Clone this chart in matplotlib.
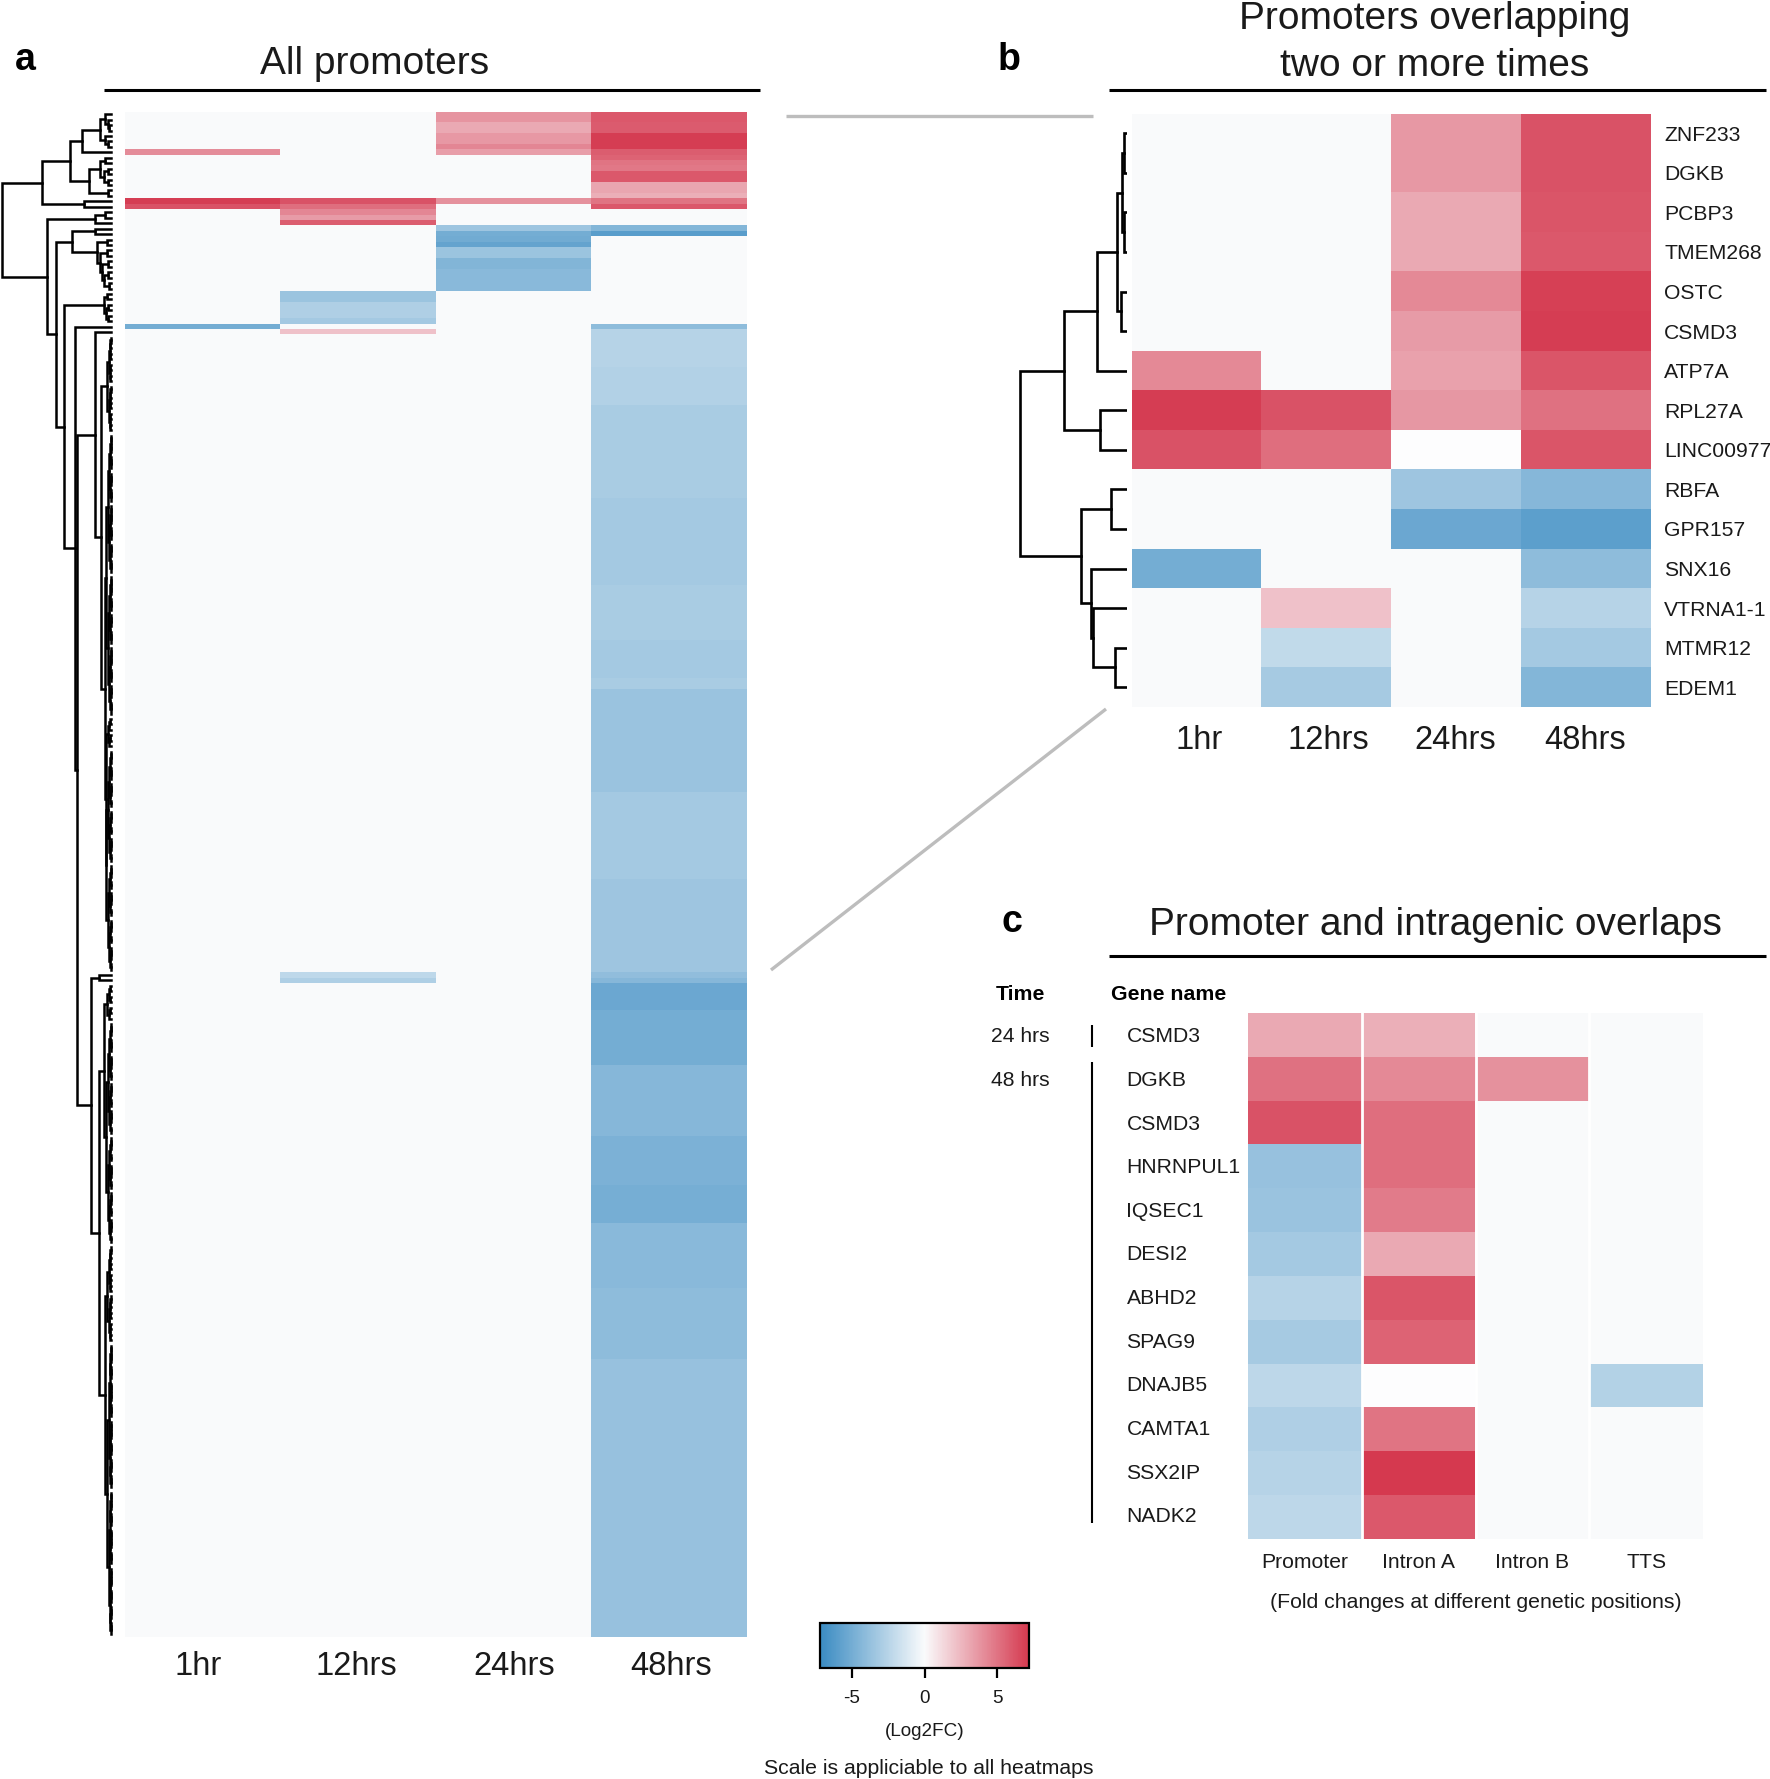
import numpy as np
from matplotlib import pyplot as plt
from matplotlib.cm import ScalarMappable
from matplotlib.colors import LinearSegmentedColormap, Normalize
from matplotlib.lines import Line2D

plt.rcParams['font.family'] = ['Liberation Sans', 'DejaVu Sans']
plt.rcParams['axes.unicode_minus'] = False

W, H = 1770, 1779
VMAX = 7.2
TXT = '#1a1a1a'

time_labels = ['1hr', '12hrs', '24hrs', '48hrs']

# panel a, rows that are not blank, read top to bottom
a_rows = 280
a_1hr_rows = [7, 16, 17, 39]
a_1hr_vals = [4.1, 7.0, 6.2, -5.0]
a_12_rows = [16, 17, 18, 19, 20, 33, 34, 35, 36, 37, 38, 40, 158, 159]
a_12_vals = [6.2, 5.2, 4.3, 3.5, 5.8, -3.5, -3.5, -2.8, -2.8, -2.8, -3.2, 2.1, -2.2, -2.8]
a_24_rows = [0, 1, 2, 3, 4, 5, 6, 7, 16, 21, 22, 23, 24, 25, 26, 27, 28, 29, 30, 31, 32]
a_24_vals = [3.8, 3.8, 3.0, 3.0, 3.6, 3.6, 4.3, 3.4, 3.9,
             -3.4, -5.0, -5.1, -5.6, -3.5, -3.5, -4.5, -4.5, -4.2, -4.2, -4.2, -4.2]
a_48_top_rows = [0, 1, 2, 3, 4, 5, 6, 7, 8, 9, 10, 11, 12, 13, 14, 15, 16, 17, 21, 22]
a_48_top_vals = [6.0, 6.0, 5.9, 5.9, 7.0, 7.0, 7.0, 5.8, 5.6, 5.0, 4.8, 6.0, 6.0,
                 3.1, 3.1, 2.8, 5.0, 6.0, -4.4, -6.0]
# long block of the 48hrs column, as (first row, last row) runs
a_48_first = [39, 40, 47, 54, 71, 87, 97, 104, 106, 125, 141, 158, 159, 160, 165, 175, 188, 197, 204, 216, 229]
a_48_last = [39, 46, 53, 70, 86, 96, 103, 105, 124, 140, 157, 158, 159, 164, 174, 187, 196, 203, 215, 228, 279]
a_48_vals = [-4.0, -2.5, -2.7, -3.0, -3.2, -3.0, -3.2, -3.0, -3.6, -3.2, -3.4,
             -3.9, -4.3, -5.3, -5.0, -4.3, -4.7, -4.9, -4.2, -4.0, -3.7]

# panel b
b_genes = ['ZNF233', 'DGKB', 'PCBP3', 'TMEM268', 'OSTC', 'CSMD3', 'ATP7A', 'RPL27A',
           'LINC00977', 'RBFA', 'GPR157', 'SNX16', 'VTRNA1-1', 'MTMR12', 'EDEM1']
b_1hr = [0, 0, 0, 0, 0, 0, 4.2, 7.0, 6.2, 0, 0, -5.0, 0, 0, 0]
b_12 = [0, 0, 0, 0, 0, 0, 0, 6.2, 5.2, 0, 0, 0, 2.1, -2.1, -3.1]
b_24 = [3.6, 3.6, 3.0, 3.0, 4.2, 3.5, 3.3, 3.7, np.nan, -3.4, -5.3, 0, 0, 0, 0]
b_48 = [6.2, 6.2, 6.1, 6.0, 6.9, 7.0, 6.1, 5.1, 6.1, -4.3, -5.9, -4.0, -2.5, -3.2, -4.4]

# panel c
c_genes = ['CSMD3', 'DGKB', 'CSMD3', 'HNRNPUL1', 'IQSEC1', 'DESI2', 'ABHD2', 'SPAG9',
           'DNAJB5', 'CAMTA1', 'SSX2IP', 'NADK2']
c_positions = ['Promoter', 'Intron A', 'Intron B', 'TTS']
c_promoter = [3.0, 5.1, 6.2, -3.7, -3.6, -3.2, -2.5, -3.1, -2.3, -2.8, -2.5, -2.3]
c_intron_a = [2.8, 4.2, 5.2, 5.2, 4.7, 3.0, 6.1, 5.6, np.nan, 5.0, 7.2, 6.0]
c_intron_b = [0, 3.9, 0, 0, 0, 0, 0, 0, 0, 0, 0, 0]
c_tts = [0, 0, 0, 0, 0, 0, 0, 0, -2.6, 0, 0, 0]

cmap = LinearSegmentedColormap.from_list('bwr2', ['#3a8bc2', '#fafbfc', '#d5394f'])
norm = Normalize(-VMAX, VMAX)


def comb(first, last, h):
    # tight leaf clusters, too fine to read branch by branch
    if first == last:
        return first
    mid = (first + last) // 2
    return (h, comb(first, mid, h * 0.62), comb(mid + 1, last, h * 0.62))


# dendrograms: (height, child, child), a plain int is a leaf row
b_tree = (105,
          (62, (29, (10, (5.4, (2.5, 0, 1), (2.5, 2, 3)), (5.9, 4, 5)), 6), (26.5, 7, 8)),
          (45, (16, 9, 10), (35, 11, (33, 12, (12, 13, 14)))))

a_upper = (70,
           (42,
            (30, (11, (6, 0, (3, 1, (2, 2, 3))), (6, 4, (3, 5, 6))), 7),
            (23, (11, (6, 8, 9), (7, (3, 10, 11), (3, 12, 13))), (3.5, 14, 15))),
           (28, 16, 17))
a_12only = (17, (6.5, 18, 19), 20)
a_24only = (40,
            (17, 21, 22),
            (14, (4, 23, 24),
             (11, (4, 25, 26), (9, (3, 27, 28), (7, (3, 29, 30), (2, 31, 32))))))
a_upper_long = (16.7, 40,
                (10, comb(41, 58, 4.5),
                 (6, comb(59, 110, 5),
                  (5, comb(111, 116, 3), comb(117, 157, 5)))))
a_lower_long = (21,
                (12, 158, 159),
                (12,
                 (7.7, comb(160, 166, 4), comb(167, 207, 5)),
                 (6, comb(208, 225, 4), comb(226, 279, 4))))
a_long = (48,
          (7, (4, 33, 34), (5, (3, 35, 36), (3, 37, 38))),
          (37, 39, (35, a_upper_long, a_lower_long)))
a_tree = (111, a_upper, (65, a_12only, (56, a_24only, a_long)))


def fig_x(x):
    return x / W


def fig_y(y):
    return 1 - y / H


def add_ax(fig, x0, y0, x1, y1):
    return fig.add_axes([fig_x(x0), fig_y(y1), (x1 - x0) / W, (y1 - y0) / H])


def draw_tree(ax, node, lw):
    if isinstance(node, (int, np.integer)):
        return node, 0
    h, left, right = node
    y0, h0 = draw_tree(ax, left, lw)
    y1, h1 = draw_tree(ax, right, lw)
    ax.plot([h0, h, h, h1], [y0, y0, y1, y1], color='black', lw=lw, solid_joinstyle='miter')
    return (y0 + y1) / 2, h


def put_text(fig, x, y, s, size, ha='center', weight='normal', color=TXT):
    fig.text(fig_x(x), fig_y(y), s, fontsize=size, ha=ha, va='center', fontweight=weight, color=color)


def put_line(fig, xs, ys, color, lw):
    fig.add_artist(Line2D([fig_x(x) for x in xs], [fig_y(y) for y in ys], color=color, lw=lw,
                          solid_capstyle='butt'))


fig = plt.figure(figsize=(W / 100, H / 100), dpi=100)

# panel a heatmap
mat_a = np.zeros((a_rows, 4))
mat_a[a_1hr_rows, 0] = a_1hr_vals
mat_a[a_12_rows, 1] = a_12_vals
mat_a[a_24_rows, 2] = a_24_vals
mat_a[a_48_top_rows, 3] = a_48_top_vals
for first, last, val in zip(a_48_first, a_48_last, a_48_vals):
    mat_a[first:last + 1, 3] = val

ax_a = add_ax(fig, 125, 111.5, 746, 1637)
ax_a.imshow(mat_a, aspect='auto', cmap=cmap, norm=norm, interpolation='nearest')
ax_a.set_xticks([-0.03, 0.99, 2.01, 3.02], time_labels, fontsize=23.5, color=TXT)
ax_a.set_yticks([])
ax_a.tick_params(length=0, pad=10)
for sp in ax_a.spines.values():
    sp.set_visible(False)

ax_da = add_ax(fig, 0, 111.5, 113, 1637)
draw_tree(ax_da, a_tree, 1.8)
ax_da.set_xlim(112.7, -1.7)
ax_da.set_ylim(a_rows - 0.5, -0.5)
ax_da.axis('off')

# panel b heatmap
mat_b = np.array([b_1hr, b_12, b_24, b_48]).T
ax_b = add_ax(fig, 1132, 113.5, 1651, 707)
ax_b.set_facecolor('#fdfdfe')
ax_b.imshow(mat_b, aspect='auto', cmap=cmap, norm=norm, interpolation='nearest')
ax_b.set_xticks([0.02, 1.01, 1.99, 2.99], time_labels, fontsize=23.5, color=TXT)
ax_b.yaxis.tick_right()
ax_b.set_yticks(range(len(b_genes)), b_genes, fontsize=15.2, color=TXT)
ax_b.tick_params(length=0)
ax_b.tick_params(axis='x', pad=13)
ax_b.tick_params(axis='y', pad=9.4)
for sp in ax_b.spines.values():
    sp.set_visible(False)

ax_db = add_ax(fig, 1017, 113.5, 1127, 707)
draw_tree(ax_db, b_tree, 1.9)
ax_db.set_xlim(0, 108)
ax_db.invert_xaxis()
ax_db.set_ylim(len(b_genes) - 0.5, -0.5)
ax_db.axis('off')

# panel c heatmap
mat_c = np.array([c_promoter, c_intron_a, c_intron_b, c_tts]).T
ax_c = add_ax(fig, 1248, 1013, 1703, 1539)
ax_c.set_facecolor('#fdfdfe')
ax_c.imshow(mat_c, aspect='auto', cmap=cmap, norm=norm, interpolation='nearest')
for x in [0.5, 1.5, 2.5]:
    ax_c.axvline(x, color='white', lw=2)
ax_c.set_xticks(range(4), c_positions, fontsize=15.2, color=TXT)
ax_c.set_yticks(np.arange(len(c_genes)) * 0.995, c_genes, fontsize=15.2, color=TXT)
for lab in ax_c.get_yticklabels():
    lab.set_ha('left')
ax_c.tick_params(length=0)
ax_c.tick_params(axis='x', pad=10)
ax_c.tick_params(axis='y', pad=87.5)
for sp in ax_c.spines.values():
    sp.set_visible(False)

# colour key
ax_key = add_ax(fig, 820, 1623, 1029, 1668)
cb = fig.colorbar(ScalarMappable(norm=norm, cmap=cmap), cax=ax_key, orientation='horizontal')
cb.set_ticks([-5, 0, 5])
cb.ax.tick_params(length=7.5, width=1.6, labelsize=13.6, pad=8.5, labelcolor=TXT)
cb.outline.set_linewidth(1.6)

# titles, rules and panel letters
put_text(fig, 375, 64, 'All promoters', 28)
put_text(fig, 1435, 19, 'Promoters overlapping', 28)
put_text(fig, 1435, 66, 'two or more times', 28)
put_text(fig, 1435, 925, 'Promoter and intragenic overlaps', 28)
put_line(fig, [104, 760], [89.6, 89.6], 'black', 2.2)
put_line(fig, [1109, 1766], [89.6, 89.6], 'black', 2.2)
put_line(fig, [1109, 1766], [956, 956], 'black', 2.2)
put_text(fig, 25, 60, 'a', 27, weight='bold', color='black')
put_text(fig, 1009, 60, 'b', 27, weight='bold', color='black')
put_text(fig, 1012, 922, 'c', 27, weight='bold', color='black')

# grey lines tying a to b
put_line(fig, [786, 1093], [116, 116], '#bdbdbd', 2.4)
put_line(fig, [1106, 771], [709, 970], '#bdbdbd', 2.4)

# panel c side labels
put_text(fig, 1020, 995, 'Time', 15.3, weight='bold', color='black')
put_text(fig, 1111, 995, 'Gene name', 15.3, ha='left', weight='bold', color='black')
put_text(fig, 1020, 1037, '24 hrs', 15.2)
put_text(fig, 1020, 1081, '48 hrs', 15.2)
put_line(fig, [1092, 1092], [1025, 1047], 'black', 1.5)
put_line(fig, [1092, 1092], [1062, 1523], 'black', 1.5)
put_text(fig, 1476, 1603, '(Fold changes at different genetic positions)', 15.3)

put_text(fig, 925, 1731, '(Log2FC)', 13.6)
put_text(fig, 929, 1769, 'Scale is appliciable to all heatmaps', 15.3)

fig.savefig('out.png', dpi=100)
